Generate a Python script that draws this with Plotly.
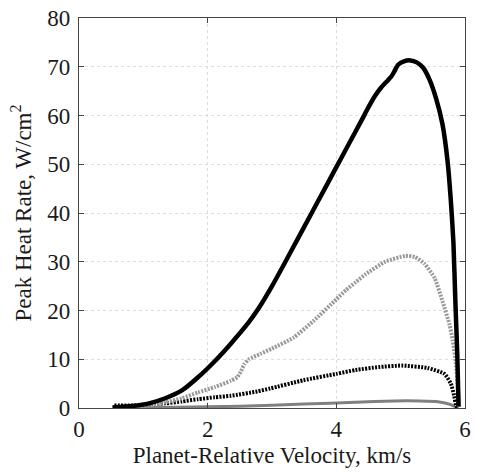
import plotly.graph_objects as go

# Solid black curve
vel_a = [0.52, 0.83, 1.09, 1.34, 1.60, 1.85, 2.11, 2.36, 2.64, 2.80, 3.0, 3.2, 3.4, 3.6, 3.8, 4.0,
         4.2, 4.4, 4.5, 4.6, 4.7, 4.8, 4.86, 4.90, 4.96, 5.05, 5.15, 5.25, 5.35, 5.45, 5.55, 5.65, 5.73,
         5.78, 5.82, 5.85, 5.88, 5.90]
q_a = [0.1, 0.4, 0.95, 2.0, 3.6, 6.3, 9.6, 13.2, 17.6, 20.6, 25.0, 29.8, 34.7, 39.6, 44.5, 49.4,
       54.3, 59.2, 61.7, 64.0, 65.8, 67.2, 68.1, 69.0, 70.4, 71.1, 71.3, 70.9, 69.8, 67.3, 63.5, 58.2, 50.5,
       42.5, 34.0, 22.0, 11.0, 0.3]

# Gray dotted curve
vel_b = [0.55, 0.83, 1.09, 1.34, 1.60, 1.85, 2.11, 2.36, 2.46, 2.52, 2.57, 2.64, 2.82, 3.0, 3.33,
         3.64, 4.0, 4.15, 4.3, 4.45, 4.76, 5.07, 5.22, 5.37, 5.53, 5.65, 5.76, 5.81, 5.86, 5.89, 5.91]
q_b = [0.1, 0.2, 0.5, 1.2, 2.0, 3.2, 4.3, 5.6, 6.3, 7.6, 9.0, 10.0, 11.1, 12.2, 14.4,
       17.8, 22.3, 24.2, 25.8, 27.4, 30.0, 31.2, 31.0, 29.6, 26.6, 21.9, 17.1, 13.8, 9.0, 4.0, 0.2]

# Black dotted curve
vel_c = [0.55, 0.83, 1.09, 1.34, 1.60, 1.85, 2.11, 2.36, 2.77, 2.97, 3.49, 4.0, 4.30, 4.66, 5.02,
         5.42, 5.68, 5.78, 5.83, 5.86, 5.88]
q_c = [0.5, 0.5, 0.7, 0.95, 1.35, 1.8, 2.2, 2.5, 3.4, 4.0, 5.7, 7.0, 7.8, 8.4, 8.7,
       8.2, 7.0, 5.0, 2.6, 0.6, 0.1]

# Gray solid curve
vel_d = [0.55, 1.5, 2.5, 3.5, 4.3, 4.9, 5.3, 5.58, 5.78, 5.85, 5.9]
q_d = [0.05, 0.15, 0.35, 0.8, 1.2, 1.45, 1.45, 1.3, 0.7, 0.2, 0.0]

x_ticks = [0, 2, 4, 6]
y_ticks = [0, 10, 20, 30, 40, 50, 60, 70, 80]

fig = go.Figure()
fig.add_trace(go.Scatter(x=vel_d, y=q_d, mode="lines",
                         line=dict(color="#808080", width=3, shape="spline", smoothing=0.5)))
fig.add_trace(go.Scatter(x=vel_c, y=q_c, mode="lines",
                         line=dict(color="#000000", width=4, dash="2px,1.3px", shape="spline", smoothing=0.5)))
fig.add_trace(go.Scatter(x=vel_b, y=q_b, mode="lines",
                         line=dict(color="#999999", width=4, dash="2px,1.3px", shape="spline", smoothing=0.5)))
fig.add_trace(go.Scatter(x=vel_a, y=q_a, mode="lines",
                         line=dict(color="#000000", width=4.5, shape="spline", smoothing=0.5)))

font_family = "Liberation Serif, Times New Roman, serif"
axis_common = dict(
    showgrid=True, gridcolor="#dcdcdc", griddash="dot", gridwidth=1,
    showline=True, linecolor="#444444", linewidth=1.2, mirror="ticks",
    ticks="inside", ticklen=5, tickcolor="#444444",
    zeroline=False,
    tickfont=dict(family=font_family, size=23, color="#1a1a1a"),
)
fig.update_xaxes(range=[0, 6], tickvals=x_ticks,
                 title=dict(text="Planet-Relative Velocity, km/s",
                            font=dict(family=font_family, size=23, color="#1a1a1a"), standoff=6),
                 **axis_common)
fig.update_yaxes(range=[0, 80], tickvals=y_ticks, ticklabelstandoff=3,
                 title=dict(text="Peak Heat Rate, W/cm<sup>2</sup>",
                            font=dict(family=font_family, size=23, color="#1a1a1a"), standoff=9),
                 **axis_common)
fig.update_layout(
    width=477, height=475,
    margin=dict(l=79, r=6, t=13, b=67),
    paper_bgcolor="white", plot_bgcolor="white",
    showlegend=False,
)
fig.write_html("out.html")
